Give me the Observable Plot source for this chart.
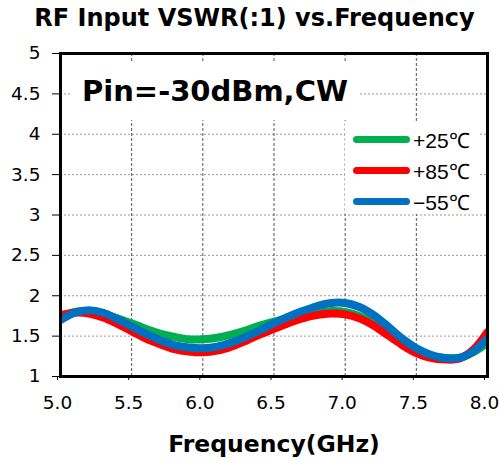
<!DOCTYPE html>
<html><head><meta charset="utf-8">
<script src="https://cdn.jsdelivr.net/npm/d3@7"></script>
<script src="https://cdn.jsdelivr.net/npm/@observablehq/plot@0.6"></script>
<style>
body{margin:0;background:#fff;}
#wrap{position:relative;width:499px;height:459px;font-family:"DejaVu Sans",sans-serif;color:#000;overflow:hidden;}
#title{height:34px;box-sizing:border-box;padding-top:7px;line-height:22px;font-size:24px;font-weight:bold;text-align:center;white-space:nowrap;padding-left:10px;}
#note{position:absolute;left:72px;top:62px;width:286px;height:58px;background:#fff;font-weight:bold;font-size:29px;line-height:58px;padding-left:10px;box-sizing:border-box;white-space:nowrap;}
#legend{position:absolute;left:345px;top:122px;width:133px;height:92px;background:#fff;}
.item{position:absolute;left:8px;height:31px;display:flex;align-items:center;font-family:"Liberation Sans Narrow","Liberation Sans",sans-serif;font-stretch:condensed;font-size:21px;}
.sw{width:57px;height:7px;border-radius:3.5px;margin-right:3px;}
#chart svg{display:block;}
</style></head>
<body>
<div id="wrap">
<div id="title">RF Input VSWR(:1) vs.Frequency</div>
<div id="chart"></div>
<div id="note">Pin=-30dBm,CW</div>
<div id="legend"></div>
</div>
<script>
const freq = [5.0,5.1,5.2,5.3,5.4,5.5,5.6,5.7,5.8,5.9,6.0,6.1,6.2,6.3,6.4,6.5,6.6,6.7,6.8,6.9,7.0,7.1,7.2,7.3,7.4,7.5,7.6,7.7,7.8,7.9,8.0];
const vswr25 = [1.72,1.80,1.81,1.78,1.72,1.66,1.59,1.53,1.49,1.46,1.46,1.48,1.52,1.57,1.63,1.68,1.72,1.76,1.79,1.81,1.80,1.75,1.66,1.55,1.43,1.33,1.26,1.23,1.23,1.30,1.42];
const vswr85 = [1.76,1.79,1.78,1.73,1.65,1.56,1.47,1.40,1.34,1.31,1.30,1.32,1.37,1.44,1.52,1.59,1.66,1.72,1.76,1.78,1.77,1.72,1.63,1.51,1.39,1.29,1.23,1.21,1.22,1.33,1.55];
const vswrM55 = [1.70,1.79,1.82,1.79,1.71,1.62,1.53,1.45,1.39,1.36,1.35,1.37,1.42,1.49,1.57,1.66,1.74,1.81,1.87,1.91,1.91,1.86,1.76,1.62,1.47,1.35,1.27,1.23,1.23,1.31,1.47];
const seriesNames = ["+25℃","+85℃","−55℃"];
const seriesColors = ["#00B050","#FF0000","#0070C0"];
const xTicks = [5.0,5.5,6.0,6.5,7.0,7.5,8.0];
const yTicks = [1,1.5,2,2.5,3,3.5,4,4.5,5];

const seriesValues = [vswr25, vswr85, vswrM55];
const rows = [];
seriesNames.forEach((name, i) => freq.forEach((f, j) => rows.push({name, f, v: seriesValues[i][j]})));

const chart = Plot.plot({
  width: 499, height: 425,
  marginTop: 19, marginBottom: 83, marginLeft: 60, marginRight: 12,
  style: {fontFamily: "DejaVu Sans, sans-serif", fontSize: "18.5px", color: "#000", background: "#fff"},
  x: {domain: [5, 8]},
  y: {domain: [1, 5]},
  color: {domain: seriesNames, range: seriesColors},
  marks: [
    Plot.gridY(yTicks, {stroke: "#999", strokeOpacity: 1, strokeDasharray: "2,2", strokeWidth: 1}),
    Plot.gridX(xTicks, {stroke: "#555", strokeOpacity: 1, strokeDasharray: "3,2", strokeWidth: 1}),
    Plot.axisY(yTicks, {tickSize: 8, tickPadding: 12, tickFormat: d => String(d), label: null, stroke: "#000"}),
    Plot.axisX(xTicks, {tickSize: 4, tickPadding: 15, dx: -3, tickFormat: d3.format(".1f"), label: null, stroke: "#000"}),
    Plot.axisX({ticks: [], label: "Frequency(GHz)", labelAnchor: "center", labelArrow: "none", labelOffset: 75, fontSize: 23.5, fontWeight: "bold"}),
    Plot.line(rows, {x: "f", y: "v", z: "name", stroke: "name", strokeWidth: 8, curve: "catmull-rom", clip: true}),
    Plot.frame({stroke: "#000", strokeWidth: 3})
  ]
});
document.getElementById("chart").appendChild(chart);

const leg = document.getElementById("legend");
seriesNames.forEach((n, i) => {
  const d = document.createElement("div");
  d.className = "item";
  d.style.top = (i * 31 + 2) + "px";
  d.innerHTML = `<span class="sw" style="background:${seriesColors[i]}"></span><span>${n}</span>`;
  leg.appendChild(d);
});
</script>
</body></html>
